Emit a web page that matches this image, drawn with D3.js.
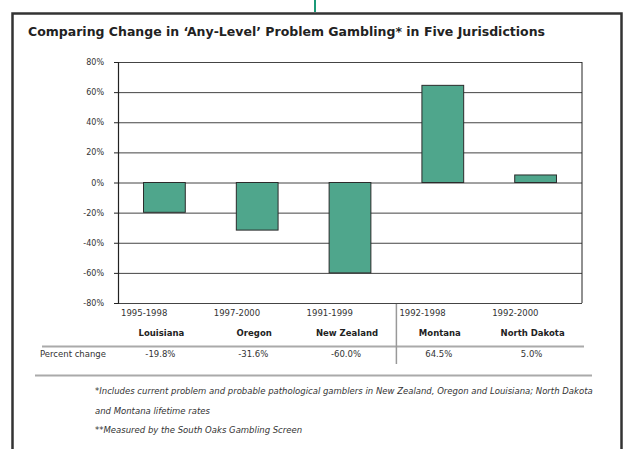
<!DOCTYPE html>
<html lang="en">
<head>
    <meta charset="UTF-8">
    <title>Comparing Change in Problem Gambling</title>
    <script src="https://d3js.org/d3.v7.min.js"></script>
    <style>
        body { margin: 0; background: #fff; }
        svg { display: block; font-family: "DejaVu Sans", Verdana, sans-serif; }
    </style>
</head>
<body>
<div id="chart"></div>
<script>
    // data
    const jurisdictions = ["Louisiana", "Oregon", "New Zealand", "Montana", "North Dakota"];
    const periods = ["1995-1998", "1997-2000", "1991-1999", "1992-1998", "1992-2000"];
    const changes = [-19.8, -31.6, -60.0, 64.5, 5.0];
    const changeLabels = ["-19.8%", "-31.6%", "-60.0%", "64.5%", "5.0%"];
    const yTicks = [80, 60, 40, 20, 0, -20, -40, -60, -80];

    const width = 628;
    const height = 449;
    const margin = { top: 62, right: 46, bottom: 146, left: 118 };

    const svg = d3.select("#chart").append("svg")
        .attr("width", width)
        .attr("height", height);

    // green rule from the page above and the outer frame
    svg.append("line")
        .attr("x1", 315).attr("x2", 315)
        .attr("y1", 0).attr("y2", 12)
        .attr("stroke", "#1b9a78")
        .attr("stroke-width", 2);

    svg.append("rect")
        .attr("x", 12.5).attr("y", 13.5)
        .attr("width", 609).attr("height", 460)
        .attr("fill", "none")
        .attr("stroke", "#333")
        .attr("stroke-width", 2.5);

    svg.append("text")
        .attr("x", 28).attr("y", 36)
        .attr("font-size", 11.5)
        .attr("font-weight", "bold")
        .attr("fill", "#222")
        .attr("textLength", 517)
        .attr("lengthAdjust", "spacingAndGlyphs")
        .text("Comparing Change in \u2018Any-Level\u2019 Problem Gambling* in Five Jurisdictions");

    const x = d3.scaleBand()
        .domain(jurisdictions)
        .range([margin.left, width - margin.right])
        .paddingInner(0.55)
        .paddingOuter(0.275);

    const y = d3.scaleLinear()
        .domain([-80, 80])
        .range([height - margin.bottom, margin.top]);

    // gridlines
    svg.append("g")
        .attr("transform", `translate(${margin.left},0)`)
        .call(d3.axisLeft(y).tickValues(yTicks).tickSize(-(width - margin.right - margin.left)).tickFormat(""))
        .call(g => g.select(".domain").remove())
        .call(g => g.selectAll("line").attr("stroke", "#444").attr("stroke-width", 1));

    // y axis
    svg.append("g")
        .attr("transform", `translate(${margin.left},0)`)
        .call(d3.axisLeft(y).tickValues(yTicks).tickSize(4).tickPadding(10).tickFormat(d => d + "%"))
        .call(g => g.select(".domain").attr("stroke", "#222").attr("stroke-width", 1.2))
        .call(g => g.selectAll("line").attr("stroke", "#222"))
        .call(g => g.selectAll("text").attr("font-family", "DejaVu Sans").attr("font-size", 8).attr("fill", "#333"));

    // right edge of plot area
    svg.append("line")
        .attr("x1", width - margin.right).attr("x2", width - margin.right)
        .attr("y1", y(80)).attr("y2", y(-80))
        .attr("stroke", "#222");

    // bars
    svg.selectAll(".bar")
        .data(changes)
        .enter().append("rect")
        .attr("class", "bar")
        .attr("x", (d, i) => x(jurisdictions[i]))
        .attr("y", d => y(Math.max(0, d)))
        .attr("width", x.bandwidth())
        .attr("height", d => Math.abs(y(d) - y(0)))
        .attr("fill", "#4fa68c")
        .attr("stroke", "#2b2b2b")
        .attr("stroke-width", 1);

    // table under the chart
    const step = x.step();
    const bandStart = name => x(name) - step * 0.275;

    svg.selectAll(".period")
        .data(periods)
        .enter().append("text")
        .attr("x", (d, i) => bandStart(jurisdictions[i]) + 3)
        .attr("y", 316)
        .attr("font-size", 8.5)
        .attr("fill", "#333")
        .text(d => d);

    svg.selectAll(".name")
        .data(jurisdictions)
        .enter().append("text")
        .attr("x", d => x(d) + x.bandwidth() / 2 - 3)
        .attr("y", 336)
        .attr("text-anchor", "middle")
        .attr("font-size", 8.5)
        .attr("font-weight", "bold")
        .attr("fill", "#222")
        .text(d => d);

    svg.selectAll(".value")
        .data(changeLabels)
        .enter().append("text")
        .attr("x", (d, i) => x(jurisdictions[i]) + x.bandwidth() / 2 - 4)
        .attr("y", 357)
        .attr("text-anchor", "middle")
        .attr("font-size", 8.5)
        .attr("fill", "#333")
        .text(d => d);

    svg.append("text")
        .attr("x", 40).attr("y", 357)
        .attr("font-size", 8.5)
        .attr("fill", "#333")
        .text("Percent change");

    svg.append("line")
        .attr("x1", 42).attr("x2", width - margin.right + 2)
        .attr("y1", 346.5).attr("y2", 346.5)
        .attr("stroke", "#aaa")
        .attr("stroke-width", 2);

    svg.append("line")
        .attr("x1", 35).attr("x2", 592)
        .attr("y1", 375.5).attr("y2", 375.5)
        .attr("stroke", "#aaa")
        .attr("stroke-width", 2);

    // divider between decreases and increases
    svg.append("line")
        .attr("x1", bandStart("Montana")).attr("x2", bandStart("Montana"))
        .attr("y1", y(-80) + 1).attr("y2", 364)
        .attr("stroke", "#999")
        .attr("stroke-width", 1.5);

    // footnotes
    const notes = [
        "*Includes current problem and probable pathological gamblers in New Zealand, Oregon and Louisiana; North Dakota",
        " and Montana lifetime rates",
        "**Measured by the South Oaks Gambling Screen"
    ];
    svg.selectAll(".note")
        .data(notes)
        .enter().append("text")
        .attr("x", 95)
        .attr("y", (d, i) => 394 + i * 19.5)
        .attr("font-size", 8.5)
        .attr("font-style", "italic")
        .attr("fill", "#333")
        .text(d => d);
</script>
</body>
</html>
